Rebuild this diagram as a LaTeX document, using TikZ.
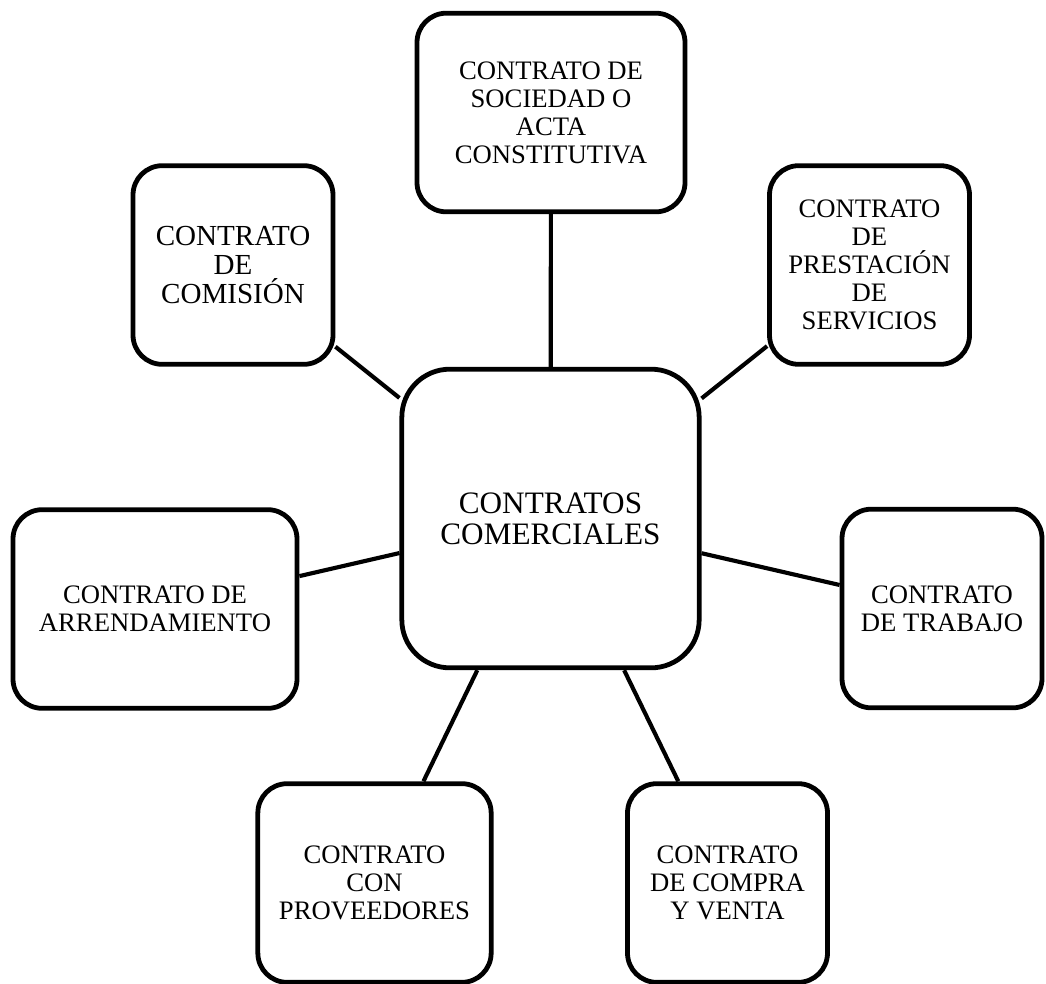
\documentclass[tikz,border=0pt]{standalone}
\usepackage{fontspec}
\setmainfont{Liberation Serif}
\usepackage{tikz}
\usetikzlibrary{positioning}

\tikzset{
  caja/.style={draw=black, fill=white, line width=3.6pt, rounded corners=22pt,
    inner sep=0pt, align=center, minimum width=150pt, minimum height=149pt,
    font=\fontsize{20}{21}\selectfont},
  cajacentral/.style={caja, rounded corners=36pt, minimum width=223pt,
    minimum height=224pt, font=\fontsize{23.4}{23.4}\selectfont},
  enlace/.style={draw=black, line width=3.1pt},
}

\begin{document}
\begin{tikzpicture}[x=0.75pt, y=-0.75pt]

  % page frame, as in the source image
  \useasboundingbox (0,0) rectangle (1046,983);

  % central topic
  \node[cajacentral] (centro) at (550.5,518.5) {CONTRATOS\\COMERCIALES};

  % contract types around it
  \node[caja, minimum width=201pt] (sociedad) at (551,112.5)
    {CONTRATO DE\\SOCIEDAD O\\ACTA\\CONSTITUTIVA};
  \node[caja, font=\fontsize{21.8}{21.4}\selectfont] (comision) at (233,265)
    {CONTRATO\\DE\\COMISIÓN};
  \node[caja] (prestacion) at (869.5,265)
    {CONTRATO\\DE\\PRESTACIÓN\\DE\\SERVICIOS};
  \node[caja, minimum width=213pt] (arrendamiento) at (155,609)
    {CONTRATO DE\\ARRENDAMIENTO};
  \node[caja] (trabajo) at (942,608.5) {CONTRATO\\DE TRABAJO};
  \node[caja, minimum width=175pt] (proveedores) at (374.5,883)
    {CONTRATO\\CON\\PROVEEDORES};
  \node[caja] (compraventa) at (727.5,883)
    {CONTRATO\\DE COMPRA\\Y VENTA};

  % spokes
  \draw[enlace] (centro) -- (sociedad);
  \draw[enlace] (centro) -- (comision);
  \draw[enlace] (centro) -- (prestacion);
  \draw[enlace] (centro) -- (arrendamiento);
  \draw[enlace] (centro) -- (trabajo);
  \draw[enlace] (centro) -- (proveedores);
  \draw[enlace] (centro) -- (compraventa);

\end{tikzpicture}
\end{document}
